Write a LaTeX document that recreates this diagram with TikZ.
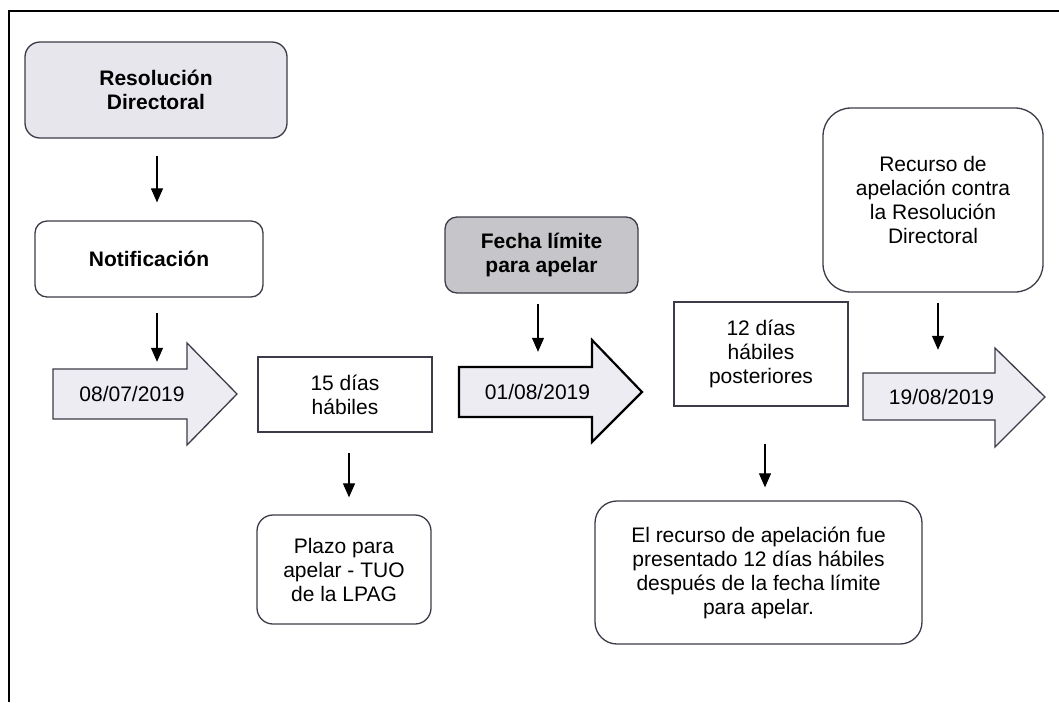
\documentclass[tikz,border=0pt]{standalone}
\usepackage{fontspec}
\setmainfont{Liberation Sans}
\usetikzlibrary{arrows.meta}
\definecolor{boxline}{HTML}{3C3C48}
\definecolor{lightfill}{HTML}{E6E6EC}
\definecolor{darkfill}{HTML}{C6C6CA}
\definecolor{arrowfill}{HTML}{ECECF2}
\tikzset{
  txt/.style={font=\fontsize{21}{24}\selectfont, align=center, inner sep=0pt},
  bx/.style={txt, draw=boxline, line width=1.3pt},
  rbx/.style={bx, rounded corners=#1},
  conn/.style={draw=black, line width=1.1pt, -{Triangle[length=14pt,width=12pt]}},
  bigarrow/.style={draw=boxline, line width=1.3pt, fill=arrowfill},
  hold/.style={txt, minimum width=134pt, minimum height=50pt},
  frame/.style={draw=black, line width=1.4pt}
}
\begin{document}
\begin{tikzpicture}[x=1pt,y=-1pt]
\useasboundingbox (0,0) rectangle (1059,702);
\fill[white] (0,0) rectangle (1059,702);
% frame
\draw[frame] (9,702) -- (9,11) -- (1059,11);

% boxes
\node[rbx=15pt, fill=lightfill, minimum width=262pt, minimum height=96pt, font=\fontsize{21}{24}\selectfont\bfseries] (res) at (156,90) {Resolución\\Directoral};
\node[rbx=12pt, minimum width=228pt, minimum height=76pt, font=\fontsize{21}{24}\selectfont\bfseries] (notif) at (149,259) {Notificación};
\node[rbx=12pt, fill=darkfill, minimum width=193pt, minimum height=76pt, font=\fontsize{21}{24}\selectfont\bfseries] (fecha) at (541.5,255) {Fecha límite\\para apelar};
\node[rbx=28pt, minimum width=220pt, minimum height=184pt] (recurso) at (933,200) {Recurso de\\apelación contra\\la Resolución\\Directoral};
\node[bx, minimum width=174pt, minimum height=75pt] (dias15) at (345,394.5) {15 días\\hábiles};
\node[bx, minimum width=174pt, minimum height=104pt] (dias12) at (761,354) {12 días\\hábiles\\posteriores};
\node[rbx=16pt, minimum width=174pt, minimum height=109pt] (plazo) at (344,569.5) {Plazo para\\apelar - TUO\\de la LPAG};
\node[rbx=22pt, minimum width=327pt, minimum height=143pt] (apel) at (758.5,572.5) {El recurso de apelación fue\\presentado 12 días hábiles\\después de la fecha límite\\para apelar.};

% big arrows
\draw[bigarrow] (53,369) -- (187,369) -- (187,343) -- (237,394) -- (187,445) -- (187,419) -- (53,419) -- cycle;
\node[hold] (d1) at (120,394) {\hspace*{24pt}08/07/2019};
\draw[bigarrow, draw=black, line width=2.2pt] (459,367) -- (592,367) -- (592,340) -- (642,392) -- (592,442) -- (592,417) -- (459,417) -- cycle;
\node[hold, minimum width=133pt] (d2) at (525.5,392) {\hspace*{24pt}01/08/2019};
\draw[bigarrow] (863,373) -- (995,373) -- (995,348) -- (1045,397) -- (995,447) -- (995,420) -- (863,420) -- cycle;
\node[hold, minimum width=132pt, minimum height=47pt] (d3) at (929,396.5) {\hspace*{25pt}19/08/2019};

% connectors
\draw[conn, shorten <=17pt, shorten >=18pt] ([xshift=1pt]res.south) -- ([xshift=1pt]res.south |- notif.north);
\draw[conn, shorten <=15pt, shorten >=7pt] ([xshift=8pt]notif.south) -- ([xshift=8pt]notif.south |- d1.north);
\draw[conn, shorten <=10pt, shorten >=15pt] ([xshift=-3.5pt]fecha.south) -- ([xshift=-3.5pt]fecha.south |- d2.north);
\draw[conn, shorten <=20pt, shorten >=17pt] ([xshift=4pt]dias15.south) -- ([xshift=4pt]dias15.south |- plazo.north);
\draw[conn, shorten <=10pt, shorten >=23pt] ([xshift=5pt]recurso.south) -- ([xshift=5pt]recurso.south |- d3.north);
\draw[conn, shorten <=37pt, shorten >=13pt] ([xshift=4pt]dias12.south) -- ([xshift=4pt]dias12.south |- apel.north);
\end{tikzpicture}
\end{document}
